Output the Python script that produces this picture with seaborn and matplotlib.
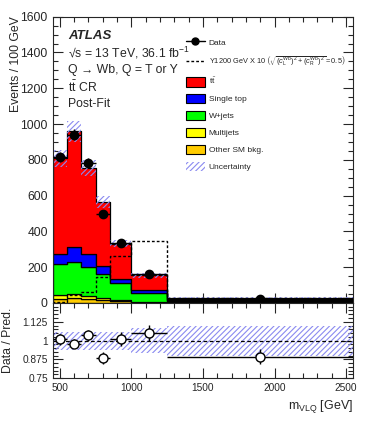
import numpy as np
import pandas as pd
import seaborn as sns
import matplotlib.pyplot as plt
from matplotlib.lines import Line2D
from matplotlib.patches import Patch
from matplotlib.ticker import MultipleLocator, FixedLocator

# bin edges in m_VLQ [GeV]
edges = [450, 550, 650, 750, 850, 1000, 1250, 2550]

# stacked backgrounds (events / 100 GeV)
ttbar = [536, 647, 483, 356, 196, 84, 11]
single_top = [52, 84, 71, 43, 26, 13, 4]
wjets = [173, 177, 164, 136, 96, 50, 10]
multijets = [22, 24, 12, 10, 4, 2, 1]
other_sm = [25, 28, 25, 18, 10, 6, 2]

# data points and errors
data = [815, 940, 781, 498, 335, 163, 25]
data_err = [29, 31, 28, 22, 15, 8, 1.4]

# signal Y1200 x10 (dashed)
signal = [5, 45, 60, 145, 261, 349, 30]

# relative uncertainty of the prediction
rel_unc = [0.06, 0.06, 0.06, 0.06, 0.06, 0.085, 0.10]

proc_names = [r"$\mathrm{t\bar{t}}$", "Single top", "W+jets", "Multijets", "Other SM bkg."]
proc_vals = [ttbar, single_top, wjets, multijets, other_sm]
proc_colors = ["#ff0000", "#0000ff", "#00ff00", "#ffff00", "#ffcc00"]

sns.set_style("ticks")
plt.rcParams["font.family"] = ["Liberation Sans", "DejaVu Sans"]
plt.rcParams["mathtext.fontset"] = "custom"
plt.rcParams["mathtext.rm"] = "Liberation Sans"
plt.rcParams["mathtext.it"] = "Liberation Sans:italic"
plt.rcParams["mathtext.bf"] = "Liberation Sans:bold"
plt.rcParams["hatch.linewidth"] = 0.8

edges_a = np.array(edges, dtype=float)
centers = 0.5 * (edges_a[1:] + edges_a[:-1])
halfw = 0.5 * (edges_a[1:] - edges_a[:-1])

rows = []
for name, vals in zip(proc_names, proc_vals):
    for c, v in zip(centers, vals):
        rows.append({"m": c, "events": v, "process": name})
df = pd.DataFrame(rows)

total = np.sum(np.array(proc_vals, dtype=float), axis=0)
unc = total * np.array(rel_unc)

fig = plt.figure(figsize=(3.74, 4.21), dpi=100)
ax = fig.add_axes([0.1409, 0.2803, 0.8037, 0.680])
rax = fig.add_axes([0.1409, 0.1021, 0.8037, 0.1782], sharex=ax)

hatch_col = "#8a8af0"

sns.histplot(data=df, x="m", weights="events", hue="process", hue_order=proc_names,
             palette=dict(zip(proc_names, proc_colors)), bins=edges, multiple="stack",
             element="step", fill=True, alpha=1, edgecolor="black", linewidth=0.9,
             legend=False, ax=ax)

# uncertainty band
ax.stairs(total + unc, edges, baseline=total - unc, fill=True, facecolor="none",
          edgecolor=hatch_col, hatch="//////", linewidth=0)

# signal
ax.stairs(signal, edges, color="black", linestyle=(0, (2, 1.5)), linewidth=1)

# data
ax.errorbar(centers, data, xerr=halfw, yerr=data_err, fmt="o", color="black",
            ms=6, lw=1, capsize=0, zorder=5)

ax.set_xlim(450, 2550)
ax.set_ylim(0, 1600)
ax.set_ylabel("Events / 100 GeV", fontsize=8.8, loc="top")
ax.set_xlabel("")
ax.yaxis.set_major_locator(MultipleLocator(200))
ax.yaxis.set_minor_locator(MultipleLocator(50))
ax.xaxis.set_major_locator(MultipleLocator(500))
ax.xaxis.set_minor_locator(MultipleLocator(100))
ax.tick_params(axis="x", labelbottom=False)

for a in (ax, rax):
    a.tick_params(which="both", direction="in", top=True, right=True, width=0.8)
    a.tick_params(which="major", length=7)
    a.tick_params(which="minor", length=3.5)
    for s in a.spines.values():
        s.set_linewidth(0.8)
ax.tick_params(labelsize=8.7)
rax.tick_params(labelsize=7.3)

ax.text(0.051, 0.934, "ATLAS", transform=ax.transAxes, fontsize=9.5, fontweight="bold",
        fontstyle="italic", va="center")
txt = ["√s = 13 TeV, 36.1 fb$^{-1}$",
       "Q → Wb, Q = T or Y",
       r"$\mathrm{t\bar{t}}$ CR",
       "Post-Fit"]
for i, t in enumerate(txt):
    ax.text(0.051, 0.873 - i * 0.0595, t, transform=ax.transAxes, fontsize=8.8, va="center")

handles = [Line2D([], [], color="black", marker="o", ms=5, lw=1),
           Line2D([], [], color="black", linestyle=(0, (2, 1.5)), lw=1)]
labels = ["Data",
          r"Y1200 GeV X 10 $\left(\sqrt{(c_{\mathrm{L}}^{\mathrm{Wb}})^2 + (c_{\mathrm{R}}^{\mathrm{Wb}})^2} = 0.5\right)$"]
for name, col in zip(proc_names, proc_colors):
    handles.append(Patch(facecolor=col, edgecolor="black", lw=0.8))
    labels.append(name)
handles.append(Patch(facecolor="none", edgecolor=hatch_col, hatch="//////", lw=0))
labels.append("Uncertainty")
leg = ax.legend(handles, labels, loc="upper left", bbox_to_anchor=(0.443, 0.927), frameon=False,
                fontsize=6, borderpad=0, borderaxespad=0, handlelength=2.3, handleheight=1.4,
                handletextpad=0.45, labelspacing=0.88)
leg.get_texts()[1].set_fontsize(5.3)

# ratio panel
ratio = np.array(data) / total
ratio_err = np.array(data_err) / total
rel = np.array(rel_unc)
rax.stairs(1 + rel, edges, baseline=1 - rel, fill=True, facecolor="none",
           edgecolor=hatch_col, hatch="//////", linewidth=0)
rax.axhline(1, color="black", linestyle=(0, (3, 2)), lw=0.9)
rax.errorbar(centers, ratio, xerr=halfw, yerr=ratio_err, fmt="o", color="black",
             mfc="white", mec="black", ms=6.5, lw=1, capsize=0, zorder=5)
rax.set_ylim(0.75, 1.25)
rax.yaxis.set_major_locator(FixedLocator([0.75, 0.875, 1.0, 1.125]))
rax.set_yticklabels(["0.75", "0.875", "1", "1.125"])
rax.yaxis.set_minor_locator(MultipleLocator(0.025))
rax.set_ylabel("Data / Pred.", fontsize=8.8)
rax.set_xlabel(r"m$_{\mathrm{VLQ}}$ [GeV]", fontsize=9, loc="right")

ax.yaxis.set_label_coords(-0.102, 1.0)
rax.yaxis.set_label_coords(-0.128, 0.5)

fig.savefig("out.png", dpi=100)
